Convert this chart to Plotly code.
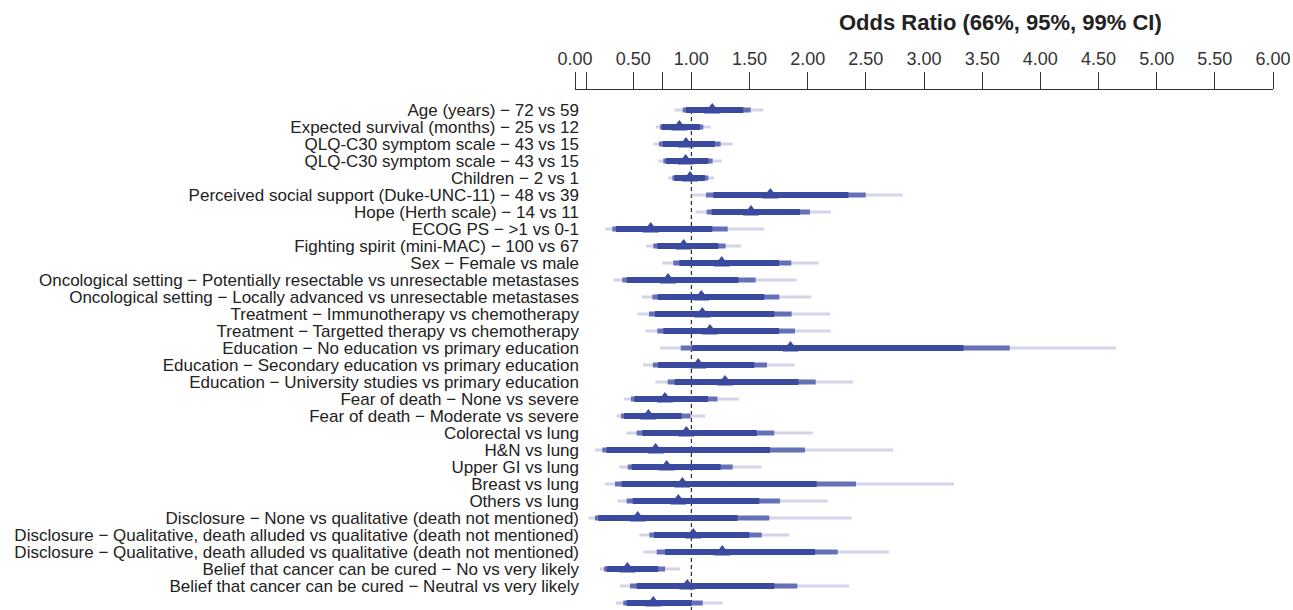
import plotly.graph_objects as go

labels = [
    "Age (years) − 72 vs 59",
    "Expected survival (months) − 25 vs 12",
    "QLQ-C30 symptom scale − 43 vs 15",
    "QLQ-C30 symptom scale − 43 vs 15",
    "Children − 2 vs 1",
    "Perceived social support (Duke-UNC-11) − 48 vs 39",
    "Hope (Herth scale) − 14 vs 11",
    "ECOG PS − >1 vs 0-1",
    "Fighting spirit (mini-MAC) − 100 vs 67",
    "Sex − Female vs male",
    "Oncological setting − Potentially resectable vs unresectable metastases",
    "Oncological setting − Locally advanced vs unresectable metastases",
    "Treatment − Immunotherapy vs chemotherapy",
    "Treatment − Targetted therapy vs chemotherapy",
    "Education − No education vs primary education",
    "Education − Secondary education vs primary education",
    "Education − University studies vs primary education",
    "Fear of death − None vs severe",
    "Fear of death − Moderate vs severe",
    "Colorectal vs lung",
    "H&N vs lung",
    "Upper GI vs lung",
    "Breast vs lung",
    "Others vs lung",
    "Disclosure − None vs qualitative (death not mentioned)",
    "Disclosure − Qualitative, death alluded vs qualitative (death not mentioned)",
    "Disclosure − Qualitative, death alluded vs qualitative (death not mentioned)",
    "Belief that cancer can be cured − No vs very likely",
    "Belief that cancer can be cured − Neutral vs very likely",
    "Belief that cancer can be cured − Likely vs very likely",
]

odds_ratio = [1.180, 0.897, 0.954, 0.951, 0.989, 1.679, 1.513, 0.651, 0.934, 1.261,
              0.800, 1.086, 1.094, 1.160, 1.852, 1.059, 1.289, 0.773, 0.631, 0.957,
              0.693, 0.788, 0.923, 0.888, 0.539, 1.017, 1.266, 0.450, 0.965, 0.673]

ci66_low = [0.954, 0.745, 0.754, 0.782, 0.854, 1.189, 1.175, 0.352, 0.708, 0.897,
            0.444, 0.711, 0.688, 0.759, 1.008, 0.713, 0.857, 0.511, 0.420, 0.579,
            0.272, 0.487, 0.401, 0.496, 0.201, 0.679, 0.774, 0.272, 0.530, 0.444]
ci66_high = [1.447, 1.075, 1.203, 1.146, 1.117, 2.350, 1.934, 1.180, 1.232, 1.754,
             1.404, 1.627, 1.713, 1.754, 3.339, 1.541, 1.921, 1.143, 0.917, 1.562,
             1.676, 1.252, 2.077, 1.584, 1.398, 1.498, 2.063, 0.716, 1.713, 1.003]

ci95_low = [0.926, 0.731, 0.722, 0.759, 0.837, 1.126, 1.132, 0.321, 0.673, 0.845,
            0.407, 0.665, 0.636, 0.708, 0.909, 0.670, 0.797, 0.481, 0.395, 0.530,
            0.235, 0.453, 0.344, 0.444, 0.172, 0.639, 0.702, 0.249, 0.473, 0.415]
ci95_high = [1.510, 1.103, 1.252, 1.183, 1.146, 2.499, 2.020, 1.313, 1.295, 1.859,
             1.553, 1.756, 1.862, 1.891, 3.737, 1.650, 2.069, 1.225, 0.993, 1.713,
             1.977, 1.355, 2.415, 1.762, 1.670, 1.605, 2.258, 0.774, 1.911, 1.098]

ci99_low = [0.854, 0.696, 0.673, 0.716, 0.802, 1.003, 1.037, 0.258, 0.610, 0.751,
            0.330, 0.576, 0.536, 0.607, 0.731, 0.585, 0.691, 0.420, 0.359, 0.444,
            0.172, 0.381, 0.258, 0.364, 0.115, 0.553, 0.587, 0.215, 0.387, 0.350]
ci99_high = [1.619, 1.166, 1.355, 1.261, 1.195, 2.817, 2.198, 1.627, 1.427, 2.095,
             1.906, 2.031, 2.192, 2.198, 4.651, 1.889, 2.389, 1.409, 1.119, 2.043,
             2.736, 1.605, 3.258, 2.172, 2.378, 1.842, 2.699, 0.903, 2.355, 1.270]

tick_vals = [0, 0.1, 0.5, 0.75, 1, 1.5, 2, 2.5, 3, 3.5, 4, 4.5, 5, 5.5, 6]
tick_text = ["0.00", "", "0.50", "", "1.00", "1.50", "2.00", "2.50", "3.00",
             "3.50", "4.00", "4.50", "5.00", "5.50", "6.00"]

rows = list(range(len(labels)))


def segs(lo, hi):
    xs, ys = [], []
    for i, (a, b) in enumerate(zip(lo, hi)):
        xs += [a, b, None]
        ys += [i, i, None]
    return xs, ys


fig = go.Figure()
for lo, hi, color, w in [
    (ci99_low, ci99_high, "#d3d3ea", 3),
    (ci95_low, ci95_high, "#6570b6", 5),
    (ci66_low, ci66_high, "#3a4a9f", 6),
]:
    xs, ys = segs(lo, hi)
    fig.add_trace(go.Scatter(x=xs, y=ys, mode="lines",
                             line=dict(color=color, width=w),
                             hoverinfo="skip", showlegend=False))

fig.add_trace(go.Scatter(x=odds_ratio, y=rows, mode="markers",
                         marker=dict(symbol="triangle-up", size=14, color="#3a4a9f",
                                     line=dict(width=0)),
                         showlegend=False))

fig.add_shape(type="line", xref="x", yref="y", x0=1, x1=1, y0=0, y1=29.6,
              line=dict(color="black", width=1, dash="4px,3px"), layer="below")

fig.add_annotation(text="<b>Odds Ratio (66%, 95%, 99% CI)</b>", xref="paper", yref="paper",
                   x=0.609, y=1.129, xanchor="center", yanchor="middle", showarrow=False,
                   font=dict(family="Liberation Sans, Arial, sans-serif", size=22, color="#222"))

fig.update_layout(
    width=1293, height=610,
    margin=dict(l=575, r=20, t=90, b=0, pad=0),
    plot_bgcolor="white", paper_bgcolor="white",
    font=dict(family="Liberation Sans, Arial, sans-serif", color="#222"),
    xaxis=dict(side="top", range=[0, 6], tickvals=tick_vals, ticktext=tick_text,
               ticks="outside", ticklen=17, tickcolor="#333", tickwidth=1,
               showline=True, linecolor="#333", linewidth=1,
               showgrid=False, zeroline=False, automargin=False,
               tickfont=dict(size=18, color="#333")),
    yaxis=dict(range=[29.41, -1.176], tickvals=rows, ticktext=labels,
               showgrid=False, zeroline=False, showline=False, ticks="",
               automargin=False, ticklabelstandoff=-5,
               tickfont=dict(size=17, color="#222")),
)

fig.write_html("out.html", config={"displayModeBar": False},
               post_script="document.body.style.margin='0';document.body.style.overflow='hidden';")
